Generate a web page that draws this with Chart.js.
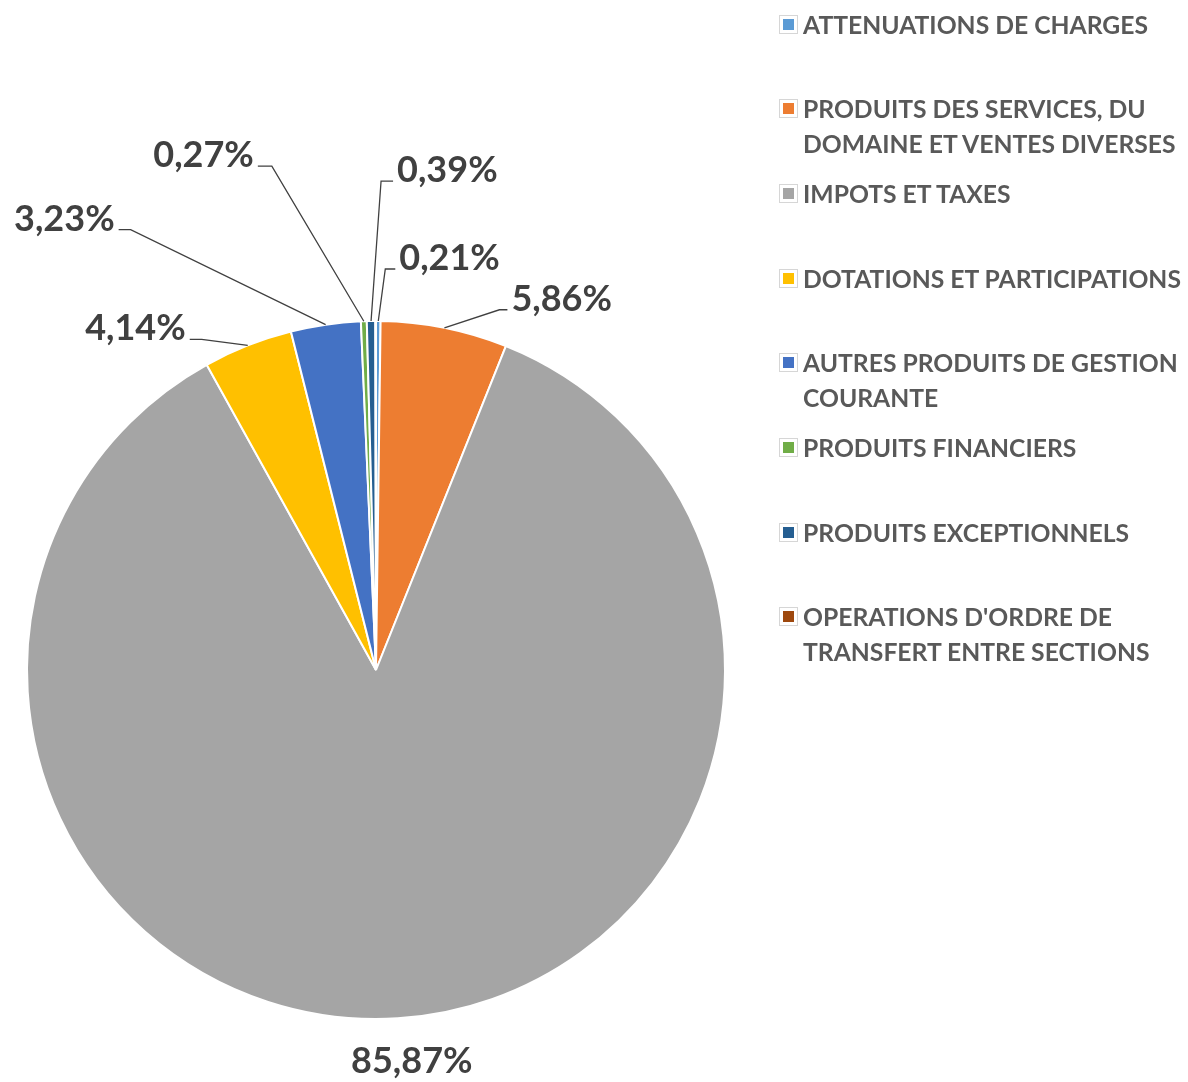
<!DOCTYPE html>
<html>
<head>
<meta charset="utf-8">
<script src="https://cdn.jsdelivr.net/npm/chart.js@4.4.1/dist/chart.umd.min.js"></script>
<style>
  html, body { margin: 0; padding: 0; background: #fff; }
  #wrap { position: relative; width: 1188px; height: 1082px; overflow: hidden; }
  #legend { position: absolute; left: 779px; top: 0; font-family: Lato, sans-serif; font-weight: bold; font-size: 24.7px; color: #595959; }
  .item { position: absolute; left: 0; width: 409px; line-height: 35px; }
  .key { position: absolute; left: 0; top: 8px; width: 11px; height: 11px; padding: 3px; background-clip: content-box; border: 1px solid #d6d6d6; }
  .txt { margin-left: 24px; width: 386px; }
</style>
</head>
<body>
<div id="wrap">
  <canvas id="pie" width="1188" height="1082"></canvas>
  <div id="legend"></div>
</div>
<script>
const categories = [
  "ATTENUATIONS DE CHARGES",
  "PRODUITS DES SERVICES, DU DOMAINE ET VENTES DIVERSES",
  "IMPOTS ET TAXES",
  "DOTATIONS ET PARTICIPATIONS",
  "AUTRES PRODUITS DE GESTION COURANTE",
  "PRODUITS FINANCIERS",
  "PRODUITS EXCEPTIONNELS",
  "OPERATIONS D'ORDRE DE TRANSFERT ENTRE SECTIONS"
];
const shares = [0.21, 5.86, 85.87, 4.14, 3.23, 0.27, 0.39, 0.03]; // %
const colors = ["#5B9BD5", "#ED7D31", "#A5A5A5", "#FFC000", "#4472C4", "#70AD47", "#255E91", "#9E480E"];

// where each percentage label sits, relative to the slice's outer edge
const labelLayout = [
  { dx: 7, dy: -52, side: "right", tail: 10 },
  { dx: 55, dy: -18, side: "right", tail: 8 },
  { dx: 14, dy: 43, side: "center" },
  { dx: -46, dy: -6, side: "left", tail: 12 },
  { dx: -195, dy: -95, side: "left", tail: 12 },
  { dx: -92, dy: -155, side: "left", tail: 14 },
  { dx: 10, dy: -140, side: "right", tail: 12 },
  null
];

function fmt(v) {
  return v.toFixed(2).replace(".", ",") + "%";
}

const pctLabels = {
  id: "pctLabels",
  afterDatasetsDraw(chart) {
    const ctx = chart.ctx;
    const meta = chart.getDatasetMeta(0);
    ctx.save();
    ctx.font = "bold 36px Lato";
    ctx.fillStyle = "#404040";
    ctx.strokeStyle = "#404040";
    ctx.lineWidth = 1.3;
    meta.data.forEach((arc, i) => {
      const lay = labelLayout[i];
      if (!lay) return;
      const p = arc.getProps(["x", "y", "startAngle", "endAngle", "outerRadius"], true);
      const mid = (p.startAngle + p.endAngle) / 2;
      const ax = p.x + Math.cos(mid) * p.outerRadius;
      const ay = p.y + Math.sin(mid) * p.outerRadius;
      const text = fmt(shares[i]);
      if (lay.side === "center") {
        ctx.textAlign = "center";
        ctx.textBaseline = "middle";
        ctx.fillText(text, ax + lay.dx, ay + lay.dy);
        return;
      }
      const ex = ax + lay.dx, ey = ay + lay.dy;
      const right = lay.side === "right";
      const tx = right ? ex + lay.tail : ex - lay.tail;
      ctx.beginPath();
      ctx.moveTo(ax, ay);
      ctx.lineTo(ex, ey);
      ctx.lineTo(tx, ey);
      ctx.stroke();
      ctx.textAlign = right ? "left" : "right";
      ctx.textBaseline = "alphabetic";
      ctx.fillText(text, right ? tx + 4 : tx - 4, ey + 1);
    });
    ctx.restore();
  }
};

const ctx = document.getElementById("pie").getContext("2d");
const pieChart = new Chart(ctx, {
  type: "pie",
  data: {
    labels: categories,
    datasets: [{
      data: shares,
      backgroundColor: colors,
      borderColor: "#ffffff",
      borderWidth: 2
    }]
  },
  options: {
    responsive: false,
    animation: false,
    layout: { padding: { left: 26, top: 320, right: 462, bottom: 62 } },
    plugins: {
      legend: { display: false },
      tooltip: { enabled: false }
    }
  },
  plugins: [pctLabels]
});

// legend, one slot per category like the original
const legend = document.getElementById("legend");
categories.forEach((name, i) => {
  const item = document.createElement("div");
  item.className = "item";
  item.style.top = (6.5 + 84.7 * i) + "px";
  const key = document.createElement("span");
  key.className = "key";
  key.style.backgroundColor = colors[i];
  const txt = document.createElement("div");
  txt.className = "txt";
  txt.textContent = name;
  item.appendChild(key);
  item.appendChild(txt);
  legend.appendChild(item);
});
</script>
</body>
</html>
